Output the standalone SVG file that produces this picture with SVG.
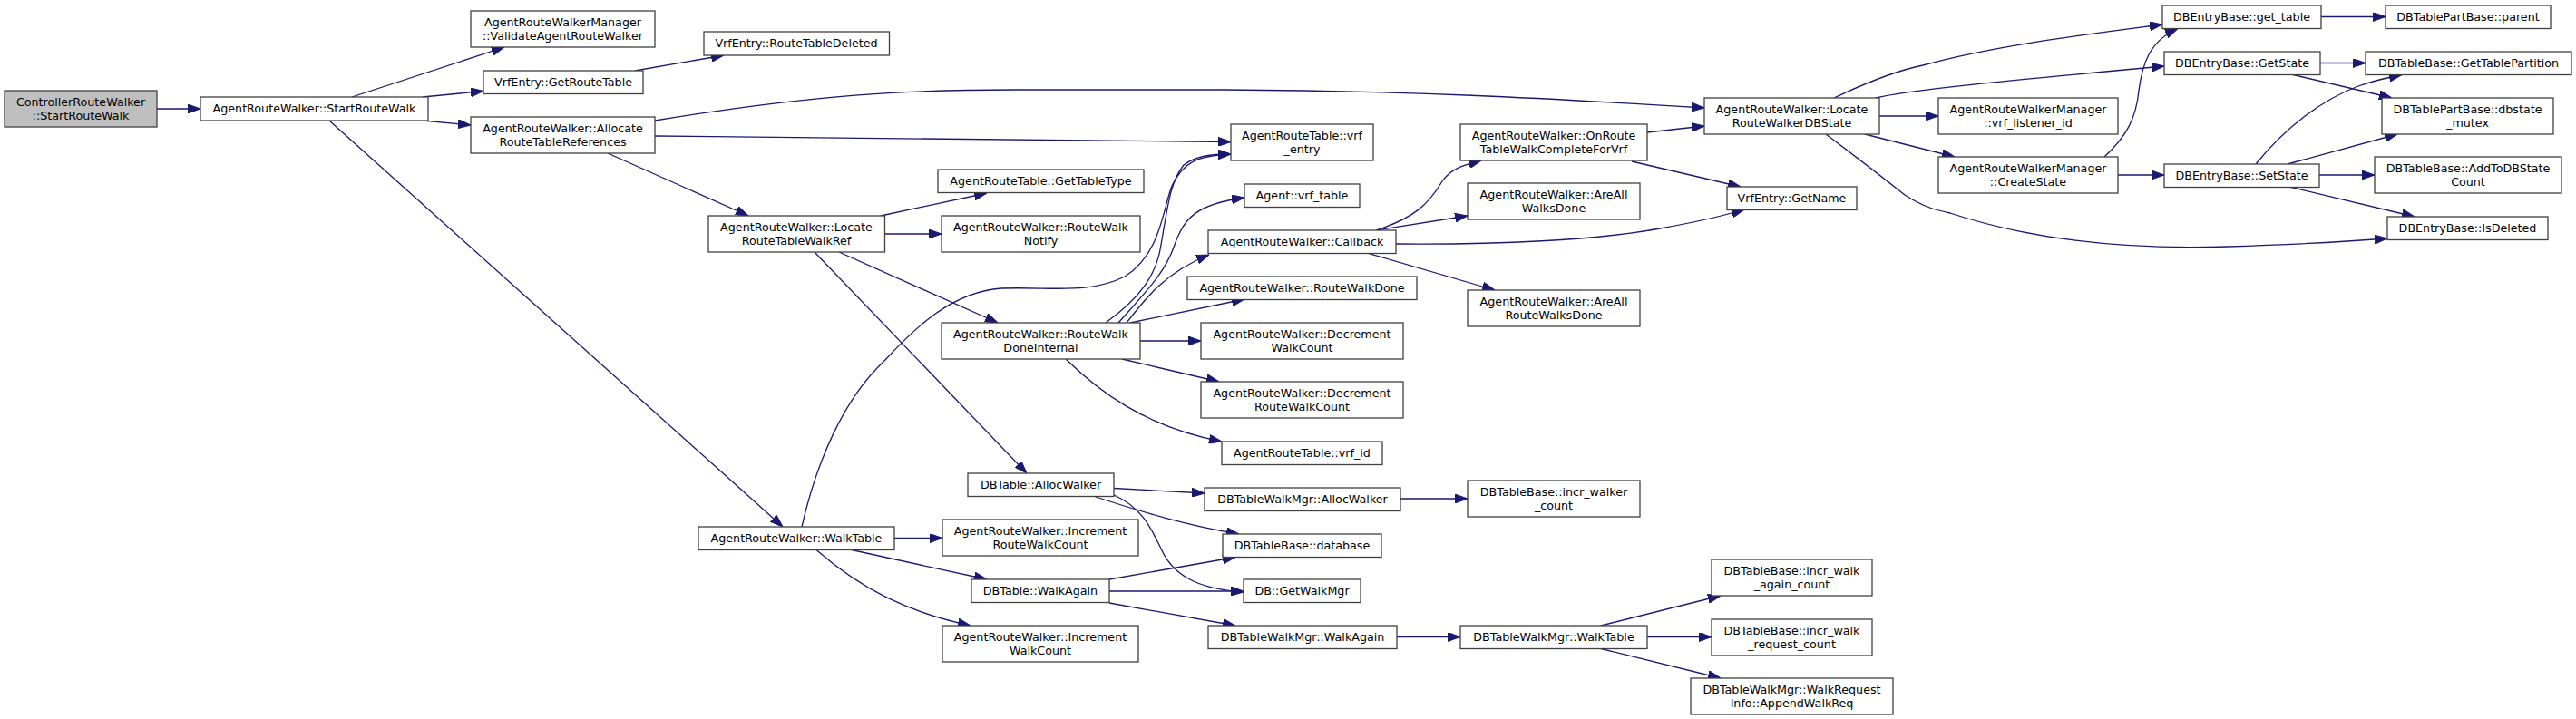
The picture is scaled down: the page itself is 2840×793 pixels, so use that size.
<svg xmlns="http://www.w3.org/2000/svg" width="2840" height="793" viewBox="0 0 2840 793">
<defs>
<style>
.n rect{fill:#fff;stroke:#404040;stroke-width:1.3}
.n.root rect{fill:#bfbfbf}
.n text{font-family:"DejaVu Sans",sans-serif;font-size:12.7px;text-anchor:middle;fill:#000}
.e path{fill:none;stroke:#191970;stroke-width:1.3;marker-end:url(#a)}
</style>
<marker id="a" markerUnits="userSpaceOnUse" markerWidth="14" markerHeight="10" refX="14" refY="5" orient="auto"><path d="M0,0 L14,5 L0,10 z" fill="#191970" stroke="#191970" stroke-width="1"/></marker>
</defs>
<rect width="2840" height="793" fill="#fff"/>
<g id="edges" class="e">
<path d="M173,120 L221,120"/>
<path d="M388,107 L556,52"/>
<path d="M466,107 L533,100.5"/>
<path d="M466,133 L519,138"/>
<path d="M363,133 L863,581"/>
<path d="M700,78 L798,61"/>
<path d="M722,133 C900,104 1000,99 1120,99 L1350,99 C1550,100 1700,108 1879,119"/>
<path d="M722,150 L1357,156.5"/>
<path d="M670,169 L825,238"/>
<path d="M971,238 L1088,213"/>
<path d="M975,258 L1038,258"/>
<path d="M925,278 L1100,356"/>
<path d="M898,278 L1132,522"/>
<path d="M1219,356 C1255,330 1275,305 1280,270 C1287,230 1290,200 1305,182 C1318,172 1335,170 1357,170"/>
<path d="M884,581 C900,510 930,440 975,398 C1010,360 1050,322 1104,318 C1160,316 1200,325 1240,305 C1280,280 1282,230 1292,205 C1305,178 1320,172 1357,170"/>
<path d="M1233,356 C1265,320 1285,300 1295,270 C1305,240 1320,225 1372,218"/>
<path d="M1242,356 C1262,330 1285,300 1333,281"/>
<path d="M1246,356 L1372,330"/>
<path d="M1257,376 L1324,376"/>
<path d="M1237,396 L1344,421"/>
<path d="M1175,396 C1210,430 1260,470 1347,487"/>
<path d="M1517,254 C1560,240 1575,225 1590,200 C1600,185 1615,182 1633,177"/>
<path d="M1517,254 L1618,238"/>
<path d="M1539,269 C1650,270 1760,265 1830,252 C1870,245 1900,238 1923,231"/>
<path d="M1507,279 L1648,320"/>
<path d="M1816,146 L1879,139"/>
<path d="M1799,178 L1919,206"/>
<path d="M2022,108 C2060,90 2090,78 2120,72 C2200,50 2300,38 2384,27"/>
<path d="M2068,108 C2100,100 2200,90 2386,73"/>
<path d="M2072,128 L2137,128"/>
<path d="M2056,148 L2155,173"/>
<path d="M2013,148 C2045,172 2075,195 2100,215 C2120,228 2135,232 2150,235 C2250,268 2360,275 2455,272 C2520,270 2580,267 2632,263"/>
<path d="M2559,18.5 L2630,18.5"/>
<path d="M2558,69.5 L2608,69.5"/>
<path d="M2526,82 L2637,108"/>
<path d="M2335,193 L2386,193"/>
<path d="M2320,173 C2345,150 2355,130 2358,100 C2362,70 2370,45 2401,31.5"/>
<path d="M2487,181 C2520,140 2560,110 2600,95 C2620,88 2635,85 2648,82.5"/>
<path d="M2522,181 L2643,148"/>
<path d="M2557,193 L2618,193"/>
<path d="M2524,206 L2662,239"/>
<path d="M1228,538.5 L1328,544"/>
<path d="M1205,547 C1260,565 1310,580 1366,589"/>
<path d="M1228,546 C1260,560 1270,585 1280,605 C1295,640 1330,650 1371,653"/>
<path d="M1544,550 L1618,550"/>
<path d="M1540,702.5 L1610,702.5"/>
<path d="M1765,690 L1897,657"/>
<path d="M1816,702.5 L1887,702.5"/>
<path d="M1765,715.5 L1897,748"/>
<path d="M986,593.5 L1039,593.5"/>
<path d="M939,606.5 L1088,639"/>
<path d="M900,606.5 C950,650 1000,675 1070,690"/>
<path d="M1223,639 L1362,614.5"/>
<path d="M1223,652 L1371,652"/>
<path d="M1223,665 L1362,690"/>
</g>
<g id="n0" class="n root"><rect x="5" y="100" width="168" height="40"/><text x="89" y="117">ControllerRouteWalker</text><text x="89" y="131.5">::StartRouteWalk</text></g>
<g id="n1" class="n"><rect x="221" y="107" width="251" height="26"/><text x="346.5" y="124">AgentRouteWalker::StartRouteWalk</text></g>
<g id="n2" class="n"><rect x="519" y="12" width="203" height="40"/><text x="620.5" y="29">AgentRouteWalkerManager</text><text x="620.5" y="43.5">::ValidateAgentRouteWalker</text></g>
<g id="n3" class="n"><rect x="533" y="78" width="176" height="25.5"/><text x="621" y="94.75">VrfEntry::GetRouteTable</text></g>
<g id="n4" class="n"><rect x="519" y="129" width="203" height="40"/><text x="620.5" y="146">AgentRouteWalker::Allocate</text><text x="620.5" y="160.5">RouteTableReferences</text></g>
<g id="n5" class="n"><rect x="776" y="35" width="204.5" height="26"/><text x="878" y="52">VrfEntry::RouteTableDeleted</text></g>
<g id="n6" class="n"><rect x="1034" y="187" width="227" height="25.5"/><text x="1147.5" y="203.75">AgentRouteTable::GetTableType</text></g>
<g id="n7" class="n"><rect x="781" y="238" width="194.5" height="40"/><text x="878" y="255">AgentRouteWalker::Locate</text><text x="878" y="269.5">RouteTableWalkRef</text></g>
<g id="n8" class="n"><rect x="1038" y="238" width="219" height="40"/><text x="1147.5" y="255">AgentRouteWalker::RouteWalk</text><text x="1147.5" y="269.5">Notify</text></g>
<g id="n9" class="n"><rect x="1038" y="356" width="219" height="40"/><text x="1147.5" y="373">AgentRouteWalker::RouteWalk</text><text x="1147.5" y="387.5">DoneInternal</text></g>
<g id="n10" class="n"><rect x="1357" y="137" width="157" height="40"/><text x="1435.5" y="154">AgentRouteTable::vrf</text><text x="1435.5" y="168.5">_entry</text></g>
<g id="n11" class="n"><rect x="1372" y="203" width="127" height="25.5"/><text x="1435.5" y="219.75">Agent::vrf_table</text></g>
<g id="n12" class="n"><rect x="1332" y="254" width="207" height="25.5"/><text x="1435.5" y="270.75">AgentRouteWalker::Callback</text></g>
<g id="n13" class="n"><rect x="1309" y="305" width="253" height="25.5"/><text x="1435.5" y="321.75">AgentRouteWalker::RouteWalkDone</text></g>
<g id="n14" class="n"><rect x="1610" y="137" width="206" height="40"/><text x="1713" y="154">AgentRouteWalker::OnRoute</text><text x="1713" y="168.5">TableWalkCompleteForVrf</text></g>
<g id="n15" class="n"><rect x="1618" y="202" width="190" height="40"/><text x="1713" y="219">AgentRouteWalker::AreAll</text><text x="1713" y="233.5">WalksDone</text></g>
<g id="n16" class="n"><rect x="1618" y="320" width="190" height="40"/><text x="1713" y="337">AgentRouteWalker::AreAll</text><text x="1713" y="351.5">RouteWalksDone</text></g>
<g id="n17" class="n"><rect x="1324" y="356" width="223" height="40"/><text x="1435.5" y="373">AgentRouteWalker::Decrement</text><text x="1435.5" y="387.5">WalkCount</text></g>
<g id="n18" class="n"><rect x="1324" y="421" width="223" height="40"/><text x="1435.5" y="438">AgentRouteWalker::Decrement</text><text x="1435.5" y="452.5">RouteWalkCount</text></g>
<g id="n19" class="n"><rect x="1347" y="487" width="177" height="25.5"/><text x="1435.5" y="503.75">AgentRouteTable::vrf_id</text></g>
<g id="n20" class="n"><rect x="1067" y="522" width="161" height="25.5"/><text x="1147.5" y="538.75">DBTable::AllocWalker</text></g>
<g id="n21" class="n"><rect x="1328" y="538" width="216" height="25.5"/><text x="1436" y="554.75">DBTableWalkMgr::AllocWalker</text></g>
<g id="n22" class="n"><rect x="1618" y="530" width="190" height="40"/><text x="1713" y="547">DBTableBase::incr_walker</text><text x="1713" y="561.5">_count</text></g>
<g id="n23" class="n"><rect x="1348" y="589" width="175" height="25.5"/><text x="1435.5" y="605.75">DBTableBase::database</text></g>
<g id="n24" class="n"><rect x="1371" y="639" width="129" height="25.5"/><text x="1435.5" y="655.75">DB::GetWalkMgr</text></g>
<g id="n25" class="n"><rect x="1332" y="690" width="208" height="25.5"/><text x="1436" y="706.75">DBTableWalkMgr::WalkAgain</text></g>
<g id="n26" class="n"><rect x="1610" y="690" width="206" height="25.5"/><text x="1713" y="706.75">DBTableWalkMgr::WalkTable</text></g>
<g id="n27" class="n"><rect x="1887" y="617" width="177" height="40"/><text x="1975.5" y="634">DBTableBase::incr_walk</text><text x="1975.5" y="648.5">_again_count</text></g>
<g id="n28" class="n"><rect x="1887" y="683" width="177" height="40"/><text x="1975.5" y="700">DBTableBase::incr_walk</text><text x="1975.5" y="714.5">_request_count</text></g>
<g id="n29" class="n"><rect x="1864" y="748" width="223" height="40"/><text x="1975.5" y="765">DBTableWalkMgr::WalkRequest</text><text x="1975.5" y="779.5">Info::AppendWalkReq</text></g>
<g id="n30" class="n"><rect x="770" y="581" width="216" height="25.5"/><text x="878" y="597.75">AgentRouteWalker::WalkTable</text></g>
<g id="n31" class="n"><rect x="1039" y="573" width="216" height="40"/><text x="1147" y="590">AgentRouteWalker::Increment</text><text x="1147" y="604.5">RouteWalkCount</text></g>
<g id="n32" class="n"><rect x="1071" y="639" width="152" height="25.5"/><text x="1147" y="655.75">DBTable::WalkAgain</text></g>
<g id="n33" class="n"><rect x="1039" y="690" width="216" height="40"/><text x="1147" y="707">AgentRouteWalker::Increment</text><text x="1147" y="721.5">WalkCount</text></g>
<g id="n34" class="n"><rect x="1879" y="108" width="193" height="40"/><text x="1975.5" y="125">AgentRouteWalker::Locate</text><text x="1975.5" y="139.5">RouteWalkerDBState</text></g>
<g id="n35" class="n"><rect x="1904" y="206" width="143" height="25.5"/><text x="1975.5" y="222.75">VrfEntry::GetName</text></g>
<g id="n36" class="n"><rect x="2384" y="6" width="175" height="25.5"/><text x="2471.5" y="22.75">DBEntryBase::get_table</text></g>
<g id="n37" class="n"><rect x="2630" y="6" width="182" height="25.5"/><text x="2721" y="22.75">DBTablePartBase::parent</text></g>
<g id="n38" class="n"><rect x="2386" y="57" width="172" height="25.5"/><text x="2472" y="73.75">DBEntryBase::GetState</text></g>
<g id="n39" class="n"><rect x="2608" y="57" width="227" height="25.5"/><text x="2721.5" y="73.75">DBTableBase::GetTablePartition</text></g>
<g id="n40" class="n"><rect x="2137" y="108" width="198" height="40"/><text x="2236" y="125">AgentRouteWalkerManager</text><text x="2236" y="139.5">::vrf_listener_id</text></g>
<g id="n41" class="n"><rect x="2626" y="108" width="189" height="40"/><text x="2720.5" y="125">DBTablePartBase::dbstate</text><text x="2720.5" y="139.5">_mutex</text></g>
<g id="n42" class="n"><rect x="2137" y="173" width="198" height="40"/><text x="2236" y="190">AgentRouteWalkerManager</text><text x="2236" y="204.5">::CreateState</text></g>
<g id="n43" class="n"><rect x="2386" y="181" width="171" height="25.5"/><text x="2471.5" y="197.75">DBEntryBase::SetState</text></g>
<g id="n44" class="n"><rect x="2618" y="173" width="206" height="40"/><text x="2721" y="190">DBTableBase::AddToDBState</text><text x="2721" y="204.5">Count</text></g>
<g id="n45" class="n"><rect x="2632" y="239" width="177" height="25.5"/><text x="2720.5" y="255.75">DBEntryBase::IsDeleted</text></g>
</svg>
